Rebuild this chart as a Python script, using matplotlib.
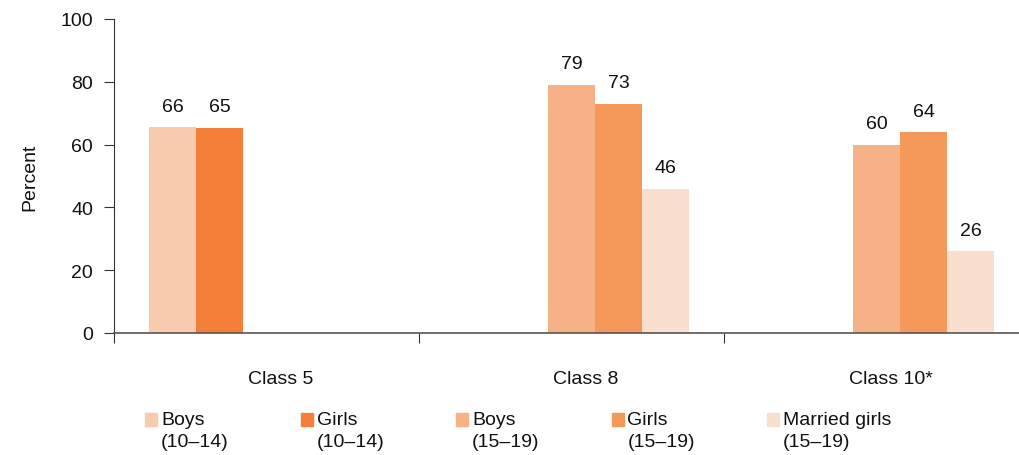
import matplotlib.pyplot as plt
import numpy as np
from matplotlib.patches import Rectangle
from matplotlib.transforms import ScaledTranslation

plt.rcParams['font.family'] = ['Liberation Sans', 'DejaVu Sans']

# --- data ---
categories = ['Class 5', 'Class 8', 'Class 10*']
series_names = ['Boys\n(10\u201314)', 'Girls\n(10\u201314)', 'Boys\n(15\u201319)',
                'Girls\n(15\u201319)', 'Married girls\n(15\u201319)']
boys_10_14 = [65.6, np.nan, np.nan]
girls_10_14 = [65.4, np.nan, np.nan]
boys_15_19 = [np.nan, 79, 60]
girls_15_19 = [np.nan, 73, 64]
married_15_19 = [np.nan, 46, 26]
colors = ['#F9CBAE', '#F37F38', '#F7B186', '#F5995A', '#FADFCE']

series = [boys_10_14, girls_10_14, boys_15_19, girls_15_19, married_15_19]

FS = 14
TXT = '#111111'

fig = plt.figure(figsize=(10.19, 4.56), dpi=100)
ax = fig.add_axes([114 / 1019, 1 - 334 / 456, 915 / 1019, 314 / 456])

x = np.arange(len(categories)) + 0.5
w = 0.154
n = len(series)
for i, (vals, col) in enumerate(zip(series, colors)):
    pos = x + (i - (n - 1) / 2) * w
    vals = np.array(vals, dtype=float)
    ax.bar(pos, vals, width=w, color=col, edgecolor='none', zorder=2)
    for p, v in zip(pos, vals):
        if not np.isnan(v):
            ax.annotate(f'{v:.0f}', xy=(p, v), xytext=(0, 9), textcoords='offset points',
                        ha='center', va='bottom', fontsize=FS, color=TXT)

ax.set_xlim(0, len(categories))
ax.set_ylim(0, 100)
ax.set_yticks(np.arange(0, 101, 20))
ax.set_xticks(np.arange(0, len(categories) + 1))
ax.set_xticklabels([])
ax.set_xticks(x, minor=True)
ax.set_xticklabels(categories, minor=True, fontsize=FS, color=TXT)
ax.tick_params(axis='x', which='minor', length=0, pad=27)
ax.tick_params(axis='x', which='major', length=7, direction='out', color='#333333')
ax.tick_params(axis='y', length=7, direction='out', labelsize=FS, labelcolor=TXT,
               pad=8, color='#333333')
off = ScaledTranslation(14 / 100, 0, fig.dpi_scale_trans)
for lab in ax.xaxis.get_minorticklabels():
    lab.set_transform(lab.get_transform() + off)

for s in ['top', 'right']:
    ax.spines[s].set_visible(False)
ax.spines['left'].set_color('#333333')
ax.spines['bottom'].set_color('#555555')
ax.spines['bottom'].set_linewidth(1.2)
ax.set_ylabel('Percent', fontsize=FS, color=TXT, labelpad=16)

# legend drawn by hand: square next to first line
lx0, dx = 145, 155.5
for i, (name, col) in enumerate(zip(series_names, colors)):
    px = (lx0 + i * dx) / 1019
    fig.patches.append(Rectangle((px, 1 - 427 / 456), 12 / 1019, 13 / 456,
                                 transform=fig.transFigure, color=col))
    fig.text(px + 16 / 1019, 1 - 412 / 456, name, fontsize=FS, va='top', ha='left',
             linespacing=1.42, color=TXT)

plt.savefig('out.png', dpi=100)
